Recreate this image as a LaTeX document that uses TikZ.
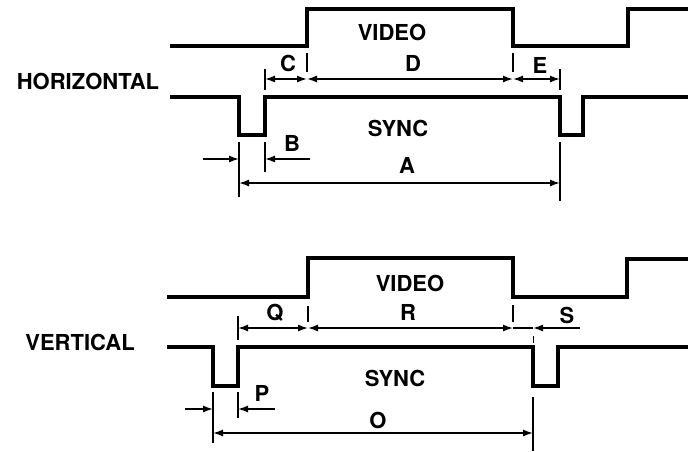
\documentclass[tikz,border=0pt]{standalone}
\usepackage{fontspec}
\setmainfont{TeX Gyre Heros}
\usetikzlibrary{arrows.meta}
\begin{document}
\begin{tikzpicture}[x=1pt,y=-1pt,
  wave/.style={line width=3.2pt,line join=miter},
  dim/.style={line width=1.4pt},
  tick/.style={line width=2pt},
  dimarrow/.style={dim,{Latex[length=10pt,width=7pt]}-{Latex[length=10pt,width=7pt]}},
  onearrow/.style={dim,-{Latex[length=10pt,width=7pt]}},
  lbl/.style={font=\fontsize{22}{24}\selectfont\bfseries,inner sep=0pt}]
\useasboundingbox (0,0) rectangle (688,451);

% ---------------- HORIZONTAL ----------------
\draw[wave] (170,46) -- (307,46) -- (307,9) -- (513,9) -- (513,46) -- (628,46) -- (628,9) -- (688,9);
\draw[wave] (170,97) -- (239,97) -- (239,135) -- (265,135) -- (265,97) -- (560,97) -- (560,135) -- (583,135) -- (583,97) -- (688,97);

\coordinate (hc1) at (265,79);
\coordinate (hc2) at (307,79);
\coordinate (hc3) at (513,79);
\coordinate (hc4) at (560,79);
\draw[tick] (265,69) -- (265,90);
\draw[tick] (307,53) -- (307,72);
\draw[tick] (513,53) -- (513,72);
\draw[tick] (560,69) -- (560,90);
\draw[dimarrow] (hc1) -- (hc2);
\draw[dimarrow] (hc2) -- (hc3);
\draw[dimarrow] (hc3) -- (hc4);

\draw[tick] (239,142) -- (239,197);
\draw[tick] (265,142) -- (265,172);
\draw[tick] (560,142) -- (560,201);
\coordinate (hb0) at (203,159);
\coordinate (hb1) at (239,159);
\coordinate (hb2) at (265,159);
\coordinate (hb3) at (310,159);
\draw[onearrow] (hb0) -- (hb1);
\draw[onearrow] (hb3) -- (hb2);
\coordinate (ha1) at (239,183);
\coordinate (ha2) at (560,183);
\draw[dimarrow] (ha1) -- (ha2);

\node[lbl] (hvideo) at (392,32) {VIDEO};
\node[lbl] (hC) at (288,63) {C};
\node[lbl] (hD) at (413,63) {D};
\node[lbl] (hE) at (540,65) {E};
\node[lbl] (hsync) at (398,128) {SYNC};
\node[lbl] (hB) at (292,143) {B};
\node[lbl] (hA) at (407,165) {A};
\node[lbl] (hlab) at (88,81) {HORIZONTAL};

% ---------------- VERTICAL ----------------
\draw[wave] (167,297) -- (308,297) -- (308,258) -- (513,258) -- (513,297) -- (627,297) -- (627,259) -- (688,259);
\draw[wave] (167,347) -- (213,347) -- (213,386) -- (238,386) -- (238,347) -- (533,347) -- (533,386) -- (558,386) -- (558,347) -- (688,347);

\coordinate (vc1) at (238,328);
\coordinate (vc2) at (308,328);
\coordinate (vc3) at (513,328);
\coordinate (vc4) at (533,328);
\coordinate (vc5) at (580,328);
\draw[tick] (238,316) -- (238,340);
\draw[tick] (308,306) -- (308,322);
\draw[tick] (513,305) -- (513,322);
\draw[line width=1pt] (533,336) -- (533,343);
\draw[dimarrow] (vc1) -- (vc2);
\draw[dimarrow] (vc2) -- (vc3);
\draw[dim] (vc3) -- (vc4);
\draw[onearrow] (vc5) -- (vc4);

\draw[tick] (213,392) -- (213,443);
\draw[tick] (238,392) -- (238,418);
\draw[tick] (533,397) -- (533,451);
\coordinate (vp0) at (185,409);
\coordinate (vp1) at (213,409);
\coordinate (vp2) at (238,409);
\coordinate (vp3) at (275,409);
\draw[onearrow] (vp0) -- (vp1);
\draw[onearrow] (vp3) -- (vp2);
\coordinate (vo1) at (213,433);
\coordinate (vo2) at (533,433);
\draw[dimarrow] (vo1) -- (vo2);

\node[lbl] (vvideo) at (410,283) {VIDEO};
\node[lbl] (vQ) at (275,313) {Q};
\node[lbl] (vR) at (408,312) {R};
\node[lbl] (vS) at (567,315) {S};
\node[lbl] (vsync) at (395,378) {SYNC};
\node[lbl] (vP) at (262,393) {P};
\node[lbl] (vO) at (378,420) {O};
\node[lbl] (vlab) at (80,342) {VERTICAL};
\end{tikzpicture}
\end{document}
